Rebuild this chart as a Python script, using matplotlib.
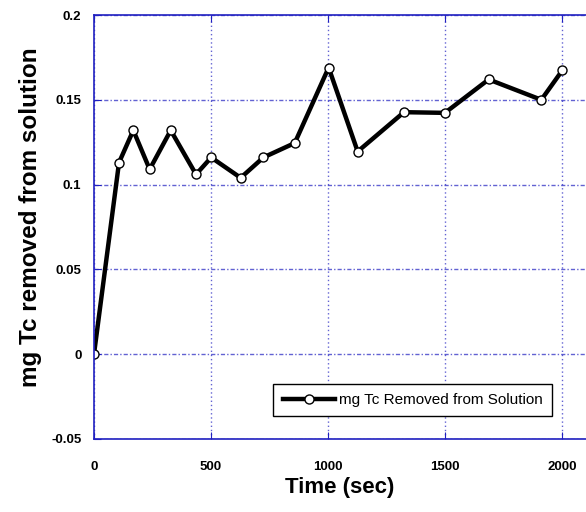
import matplotlib
matplotlib.use("Agg")
import matplotlib.pyplot as plt

# time points (sec) and mg Tc removed
time_sec = [0, 107, 168, 238, 328, 436, 501, 627, 724, 858, 1003, 1127, 1325, 1500, 1687, 1912, 2002]
mg_removed = [0.0, 0.113, 0.132, 0.109, 0.132, 0.106, 0.116, 0.104, 0.116, 0.1245,
              0.169, 0.1195, 0.1427, 0.1423, 0.162, 0.150, 0.1674]

x_ticks = [0, 500, 1000, 1500, 2000]
y_ticks = [-0.05, 0, 0.05, 0.1, 0.15, 0.2]
y_tick_labels = ['-0.05', '0', '0.05', '0.1', '0.15', '0.2']

plt.rcParams['font.family'] = ['Liberation Sans', 'DejaVu Sans']
blue = '#2020c0'

fig = plt.figure(figsize=(5.86, 5.12), dpi=100)
ax = fig.add_axes([0.1604, 0.1426, 0.8396, 0.8281])

ax.plot(time_sec, mg_removed, color='black', lw=3.2, marker='o', ms=6.5,
        mfc='white', mec='black', mew=1.0, label='mg Tc Removed from Solution')

ax.set_xlim(0, 2103)
ax.set_ylim(-0.05, 0.2)
ax.set_xticks(x_ticks)
ax.set_yticks(y_ticks)
ax.set_yticklabels(y_tick_labels)

for s in ax.spines.values():
    s.set_color(blue)
    s.set_linewidth(1.2)
ax.spines['right'].set_visible(False)

ax.tick_params(direction='in', color=blue, length=5, top=True, right=False)
ax.tick_params(axis='x', pad=16)
ax.tick_params(axis='y', pad=9)
for lab in ax.get_xticklabels() + ax.get_yticklabels():
    lab.set_fontweight('bold')
    lab.set_fontsize(9.5)

ax.xaxis.grid(True, color=blue, linestyle=(0, (1, 2)), lw=1.0, alpha=0.7)
ax.yaxis.grid(True, color=blue, linestyle=(0, (3, 1.5, 1, 1.5)), lw=1.0, alpha=0.7)

ax.set_xlabel('Time (sec)', fontsize=16, fontweight='bold', labelpad=3)
ax.set_ylabel('mg Tc removed from solution', fontsize=17.5, fontweight='bold')
ax.yaxis.set_label_coords(-0.106, 0.524)

leg = ax.legend(loc='lower right', bbox_to_anchor=(0.931, 0.054), fancybox=False,
                framealpha=1, edgecolor='black', fontsize=11, handlelength=3.4,
                borderpad=0.6, handletextpad=0.3, borderaxespad=0)
leg.get_frame().set_linewidth(1.0)

fig.savefig('out.png', dpi=100)
